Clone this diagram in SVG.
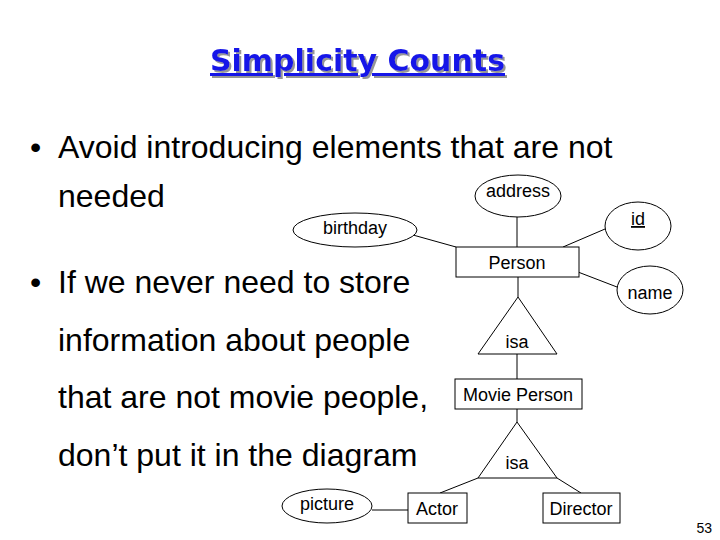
<svg xmlns="http://www.w3.org/2000/svg" width="720" height="540" viewBox="0 0 720 540">
<defs>
<filter id="shadow" x="-5%" y="-20%" width="110%" height="150%">
<feDropShadow dx="2" dy="2" stdDeviation="0.6" flood-color="#8a8a8a" flood-opacity="0.9"/>
</filter>
</defs>
<style>
.title{font-family:"Comic Sans MS","DejaVu Sans",sans-serif;font-weight:bold;font-size:30px;fill:#1414e8;text-decoration:underline;}
.body{font-family:"Liberation Sans",Arial,sans-serif;font-size:32px;fill:#000;}
.lbl{font-family:"Liberation Sans",Arial,sans-serif;font-size:18px;fill:#000;text-anchor:middle;}
.shape{fill:#fff;stroke:#000;stroke-width:1;}
.conn line{stroke:#000;stroke-width:1;}
.pg{font-family:"Liberation Sans",Arial,sans-serif;font-size:14px;fill:#000;text-anchor:end;}
</style>
<rect width="720" height="540" fill="#fff"/>

<text class="title" x="210" y="71" textLength="295" lengthAdjust="spacingAndGlyphs" filter="url(#shadow)">Simplicity Counts</text>

<g id="text-bullets">
<text class="body" x="30" y="158">•</text>
<text class="body" x="58" y="158">Avoid introducing elements that are not</text>
<text class="body" x="58" y="207">needed</text>
<text class="body" x="30" y="293">•</text>
<text class="body" x="58" y="293">If we never need to store</text>
<text class="body" x="58" y="351">information about people</text>
<text class="body" x="58" y="408">that are not movie people,</text>
<text class="body" x="58" y="466">don’t put it in the diagram</text>
</g>

<g id="connectors" class="conn">
<line x1="517" y1="217" x2="517" y2="247"/>
<line x1="413" y1="235" x2="456" y2="247"/>
<line x1="605" y1="229" x2="563" y2="247"/>
<line x1="578" y1="272" x2="617" y2="287"/>
<line x1="518" y1="277" x2="518" y2="297"/>
<line x1="517" y1="354" x2="517" y2="379"/>
<line x1="517" y1="409" x2="517" y2="422"/>
<line x1="478" y1="478" x2="440" y2="493"/>
<line x1="557" y1="478" x2="581" y2="493"/>
<line x1="372" y1="510" x2="408" y2="510"/>
</g>

<g id="address">
<ellipse class="shape" cx="518" cy="196" rx="43" ry="21"/>
<text class="lbl" x="518" y="197">address</text>
</g>
<g id="id">
<ellipse class="shape" cx="638" cy="226" rx="33" ry="24"/>
<text class="lbl" x="638" y="225" text-decoration="underline">id</text>
</g>
<g id="birthday">
<ellipse class="shape" cx="355" cy="230" rx="62" ry="17"/>
<text class="lbl" x="355" y="234">birthday</text>
</g>
<g id="person">
<rect class="shape" x="456" y="247" width="123" height="30"/>
<text class="lbl" x="517" y="269">Person</text>
</g>
<g id="name">
<ellipse class="shape" cx="650" cy="290" rx="33" ry="24"/>
<text class="lbl" x="650" y="299">name</text>
</g>
<g id="isa1">
<polygon class="shape" points="518,297 557,354 478,354"/>
<text class="lbl" x="517" y="348">isa</text>
</g>
<g id="movie-person">
<rect class="shape" x="455" y="379" width="127" height="30"/>
<text class="lbl" x="518" y="401">Movie Person</text>
</g>
<g id="isa2">
<polygon class="shape" points="517,422 557,478 478,478"/>
<text class="lbl" x="517" y="469">isa</text>
</g>
<g id="picture">
<ellipse class="shape" cx="327" cy="506" rx="45" ry="17"/>
<text class="lbl" x="327" y="510">picture</text>
</g>
<g id="actor">
<rect class="shape" x="408" y="493" width="59" height="30"/>
<text class="lbl" x="437" y="515">Actor</text>
</g>
<g id="director">
<rect class="shape" x="543" y="493" width="77" height="30"/>
<text class="lbl" x="581" y="515">Director</text>
</g>

<text class="pg" x="712" y="533">53</text>
</svg>
